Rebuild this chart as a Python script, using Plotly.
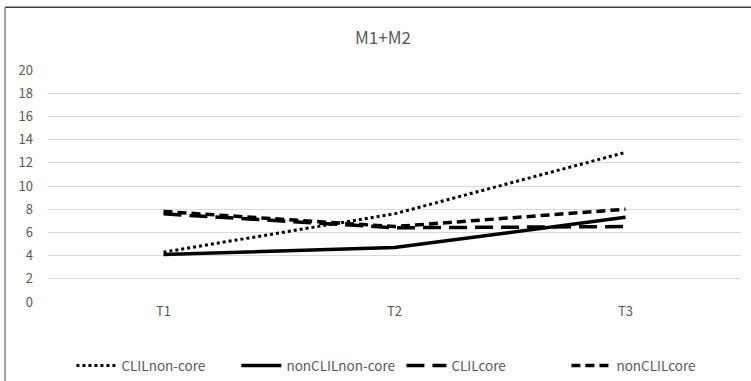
import plotly.graph_objects as go

categories = ["T1", "T2", "T3"]
clil_noncore = [4.3, 7.6, 12.9]
nonclil_noncore = [4.1, 4.7, 7.3]
clil_core = [7.6, 6.4, 6.5]
nonclil_core = [7.8, 6.5, 8.0]
series_names = ["CLILnon-core", "nonCLILnon-core", "CLILcore", "nonCLILcore"]
y_ticks = list(range(0, 21, 2))

FONT = "Noto Sans CJK JP, Noto Sans, sans-serif"

fig = go.Figure()
styles = [
    dict(dash="dot", width=3),
    dict(dash="solid", width=3.5),
    dict(dash="18px,8px", width=3.5),
    dict(dash="9px,5px", width=3.5),
]
for name, vals, st in zip(series_names,
                          [clil_noncore, nonclil_noncore, clil_core, nonclil_core],
                          styles):
    fig.add_trace(go.Scatter(x=categories, y=vals, mode="lines", name=name,
                             line=dict(color="black", **st)))

fig.update_layout(
    width=751, height=381,
    margin=dict(l=48, r=10, t=70, b=79, autoexpand=False),
    paper_bgcolor="white", plot_bgcolor="white",
    font=dict(family=FONT, color="#595959", size=13),
    title=dict(text="M1+M2", x=0.51, xanchor="center", y=0.9, yanchor="middle",
               font=dict(size=17, color="#595959", family=FONT)),
    xaxis=dict(range=[-0.5, 2.5], showgrid=False, zeroline=False, showline=False,
               ticks="", tickfont=dict(size=13, color="#595959")),
    yaxis=dict(range=[0, 20], tickvals=y_ticks, showgrid=True, gridcolor="#d9d9d9",
               gridwidth=1, zeroline=False, showline=False, ticks="",
               ticklabelstandoff=14, tickfont=dict(size=13, color="#595959")),
    legend=dict(orientation="h", x=0.51, xanchor="center",
                yref="container", y=0.04, yanchor="middle",
                font=dict(size=13.5, color="#595959"), itemwidth=40,
                entrywidth=110, tracegroupgap=0),
    showlegend=True,
)
fig.add_shape(type="line", xref="paper", yref="paper", x0=-0.062, x1=1.02, y0=1.27, y1=1.27,
              line=dict(color="#404040", width=1.5))
fig.add_shape(type="line", xref="paper", yref="paper", x0=-0.062, x1=-0.062, y0=1.27, y1=-0.4,
              line=dict(color="#808080", width=1.5))

fig.write_html("out.html", config={"displayModeBar": False},
               post_script="document.body.style.margin='0';document.body.style.overflow='hidden';")
